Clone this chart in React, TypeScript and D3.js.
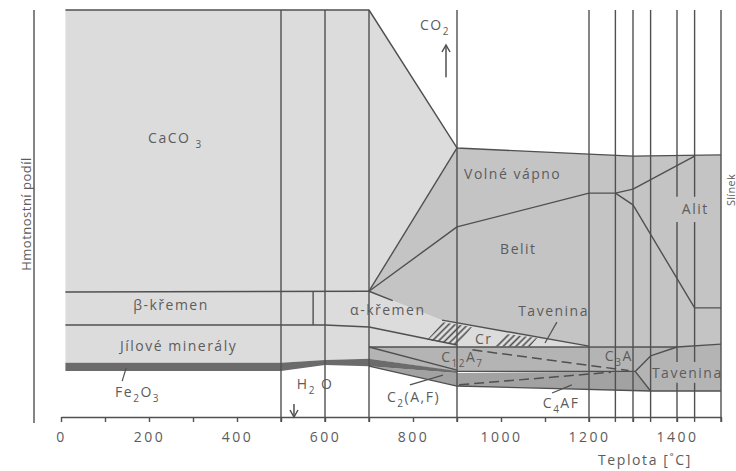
import * as d3 from "d3";
import { useRef, useEffect } from "react";

type Pt = [number, number];

// x: temperature [°C], y: relative mass [%] (0 on the axis line, 100 at the top)
const tickTemps = [0, 100, 200, 300, 400, 500, 600, 700, 800, 900, 1000, 1100, 1200, 1300, 1400, 1500];
const tickLabels = ["0", "", "200", "", "400", "", "600", "", "800", "", "1000", "", "1200", "", "1400", ""];

// vertical guide lines (reaction temperatures)
const stageTemps = [500, 600, 700, 900, 1200, 1260, 1300, 1340, 1400, 1440, 1500];
// breaks in the guide lines where labels sit
const stageGaps = [
    { t: 1400, from: 47.9, to: 54.1 },
    { t: 1440, from: 47.9, to: 54.1 },
    { t: 1400, from: 8.4, to: 13.5 },
    { t: 1440, from: 8.4, to: 13.5 },
];

// filled regions
const rawMeal: Pt[] = [[10, 100], [700, 100], [900, 66.1], [700, 30.9], [866, 23.8], [1200, 17.4], [700, 17.2], [700, 14.3], [600, 14.0], [500, 13.3], [10, 13.3]];
const limeBelitAlit: Pt[] = [[700, 30.9], [900, 66.1], [1200, 64.6], [1300, 64.1], [1500, 64.4], [1500, 17.9], [1400, 17.2], [1200, 17.4], [866, 23.8]];
const aluminateMelt: Pt[] = [[700, 17.2], [1400, 17.2], [1500, 17.9], [1500, 6.4], [1340, 6.4], [1305, 11.2], [900, 11.2], [700, 14.3]];
const ferrites: Pt[] = [[700, 12.5], [900, 10.8], [1305, 11.2], [1340, 6.4], [900, 7.6]];
const ironOxide: Pt[] = [[10, 13.3], [500, 13.3], [600, 14.0], [700, 14.3], [900, 11.3], [900, 10.8], [700, 12.5], [600, 12.8], [500, 11.3], [10, 11.3]];
const cristobaliteA: Pt[] = [[832, 18.9], [868, 23.3], [934, 22.1], [902, 17.7]];
const cristobaliteB: Pt[] = [[982, 17.3], [1009, 20.4], [1082, 19.4], [1066, 17.3]];

// boundary lines
const totalMass: Pt[] = [[10, 100], [700, 100], [900, 66.1], [1200, 64.6], [1300, 64.1], [1500, 64.4]];
const caco3Edge: Pt[] = [[700, 30.9], [900, 66.1]];
const quartzTop: Pt[] = [[10, 30.7], [700, 30.9]];
const quartzBottom: Pt[] = [[10, 22.6], [600, 22.6], [700, 22.1], [900, 17.7]];
const quartzInversion: Pt[] = [[573, 22.6], [573, 30.7]];
const quartzWedge: Pt[] = [[700, 30.9], [754, 28.6]];
const limeBelit: Pt[] = [[700, 30.9], [900, 46.7], [1200, 55.0], [1260, 55.0], [1300, 56.0], [1440, 64.1]];
const belitAlit: Pt[] = [[1260, 55.0], [1300, 52.1], [1440, 26.8], [1500, 26.8]];
const meltLine: Pt[] = [[866, 23.8], [1200, 17.4]];
const bandTop: Pt[] = [[700, 17.2], [1400, 17.2], [1500, 17.9]];
const c12a7Edge: Pt[] = [[700, 17.2], [900, 11.5]];
const bandMid: Pt[] = [[900, 11.2], [1305, 11.2]];
const meltRight: Pt[] = [[1400, 17.2], [1340, 15.0], [1305, 11.2], [1340, 6.4]];
const ferriteBottom: Pt[] = [[700, 12.5], [900, 7.6], [1340, 6.4], [1500, 6.4]];
const c12a7Split: Pt[] = [[935, 16.5], [1290, 11.4]];
const ferriteSplit: Pt[] = [[905, 7.9], [1250, 11.0]];

// leader lines from labels
const leaders: Pt[][] = [
    [[148, 12.0], [139, 8.8]],
    [[1127, 23.3], [1100, 18.2]],
    [[793, 7.9], [868, 10.3]],
    [[1116, 5.9], [1161, 7.9]],
];

// labels: [text, isSubscript]
const labels: { parts: [string, boolean][]; t: number; v: number }[] = [
    { parts: [["CaCO ", false], ["3", true]], t: 198, v: 67.3 },
    { parts: [["β-křemen", false]], t: 164, v: 26.3 },
    { parts: [["Jílové minerály", false]], t: 134, v: 16.3 },
    { parts: [["Fe", false], ["2", true], ["O", false], ["3", true]], t: 123, v: 4.9 },
    { parts: [["α-křemen", false]], t: 657, v: 25.1 },
    { parts: [["Volné vápno", false]], t: 916, v: 58.5 },
    { parts: [["Belit", false]], t: 998, v: 40.0 },
    { parts: [["Tavenina", false]], t: 1039, v: 24.8 },
    { parts: [["Cr", false]], t: 941, v: 17.9 },
    { parts: [["C", false], ["12", true], ["A", false], ["7", true]], t: 864, v: 13.6 },
    { parts: [["C", false], ["2", true], ["(A,F)", false]], t: 741, v: 3.8 },
    { parts: [["C", false], ["4", true], ["AF", false]], t: 1095, v: 2.2 },
    { parts: [["C", false], ["3", true], ["A", false]], t: 1236, v: 13.8 },
    { parts: [["Tavenina", false]], t: 1343, v: 9.6 },
    { parts: [["Alit", false]], t: 1411, v: 49.9 },
    { parts: [["H", false], ["2", true], [" O", false]], t: 536, v: 6.9 },
    { parts: [["CO", false], ["2", true]], t: 816, v: 95.1 },
];

const font = "'Open Sans', 'DejaVu Sans', sans-serif";
const lineColor = "#505050";
const textColor = "#5c5c5c";

const App = () => {
    const axisRef = useRef<SVGGElement>(null);

    const x = d3.scaleLinear().domain([0, 1500]).range([61, 721]);
    const y = d3.scaleLinear().domain([0, 100]).range([417, 10]);
    const line = d3.line<Pt>().x(d => x(d[0])).y(d => y(d[1]));
    const poly = (pts: Pt[]) => line(pts) + "Z";

    useEffect(() => {
        if (!axisRef.current) return;
        const g = d3.select(axisRef.current);
        g.selectAll("*").remove();
        g.call(
            d3.axisBottom(x)
                .tickValues(tickTemps)
                .tickFormat((_d, i) => tickLabels[i])
                .tickSize(5)
                .tickSizeOuter(0)
                .tickPadding(10)
        );
        g.select(".domain").attr("stroke", lineColor).attr("stroke-width", 1.4);
        g.selectAll(".tick line").attr("stroke", lineColor).attr("stroke-width", 1.4);
        g.selectAll(".tick text")
            .attr("fill", textColor)
            .style("font-family", font)
            .style("font-size", "14px")
            .style("letter-spacing", "2.5px");
    }, []);

    // vertical guides split by the gaps
    const guideSegments: Pt[][] = [];
    stageTemps.forEach(t => {
        const gaps = stageGaps.filter(g => g.t === t).sort((a, b) => b.to - a.to);
        let top = 100;
        gaps.forEach(g => {
            guideSegments.push([[t, top], [t, g.to]]);
            top = g.from;
        });
        guideSegments.push([[t, top], [t, -1.2]]);
    });

    const boundaries = [totalMass, caco3Edge, quartzTop, quartzBottom, quartzInversion, quartzWedge,
        limeBelit, belitAlit, meltLine, bandTop, c12a7Edge, bandMid, meltRight, ferriteBottom];

    const arrowUp = { t: 875, from: 83.5, to: 91.4 };
    const arrowDown = { t: 529.5, from: 3.2, to: 0 };

    return (
        <svg width={736} height={471} style={{ position: "absolute", left: 0, top: 0, background: "#fff" }}>
            <defs>
                <pattern id="hatch" width={4.5} height={4.5} patternUnits="userSpaceOnUse" patternTransform="rotate(45)">
                    <rect width={4.5} height={4.5} fill="#e2e2e2" />
                    <line x1={2.25} y1={0} x2={2.25} y2={4.5} stroke="#4a4a4a" strokeWidth={1.6} />
                </pattern>
            </defs>

            {/* regions */}
            <path d={poly(rawMeal)} fill="#dcdcdd" />
            <path d={poly(limeBelitAlit)} fill="#c4c4c4" />
            <path d={poly(aluminateMelt)} fill="#b4b4b4" />
            <path d={poly(ferrites)} fill="#a2a2a2" />
            <path d={poly(ironOxide)} fill="#6b6b6b" />
            <path d={poly(cristobaliteA)} fill="url(#hatch)" />
            <path d={poly(cristobaliteB)} fill="url(#hatch)" />

            {/* guides */}
            {guideSegments.map((s, i) => (
                <path key={"g" + i} d={line(s)!} stroke={lineColor} strokeWidth={1.4} fill="none" />
            ))}

            {/* boundaries */}
            {boundaries.map((b, i) => (
                <path key={"b" + i} d={line(b)!} stroke={lineColor} strokeWidth={1.4} fill="none" strokeLinejoin="round" />
            ))}
            {[c12a7Split, ferriteSplit].map((b, i) => (
                <path key={"d" + i} d={line(b)!} stroke={lineColor} strokeWidth={1.5} fill="none" strokeDasharray="10,5" />
            ))}
            {leaders.map((b, i) => (
                <path key={"l" + i} d={line(b)!} stroke={lineColor} strokeWidth={1.2} fill="none" />
            ))}

            {/* y axis */}
            <line x1={34} x2={34} y1={10} y2={423} stroke={lineColor} strokeWidth={1.4} />
            <text transform="translate(31,214) rotate(-90)" textAnchor="middle" fill={textColor}
                style={{ fontFamily: font, fontSize: 13, letterSpacing: "0.5px" }}>Hmotnostní podíl</text>

            {/* x axis */}
            <g ref={axisRef} transform={`translate(0,${y(0)})`} />
            <text x={598} y={465} fill={textColor} style={{ fontFamily: font, fontSize: 14, letterSpacing: "1.6px" }}>Teplota [˚C]</text>

            {/* gas release arrows */}
            <line x1={x(arrowUp.t)} x2={x(arrowUp.t)} y1={y(arrowUp.from)} y2={y(arrowUp.to)} stroke={lineColor} strokeWidth={1.5} />
            <path d={`M${x(arrowUp.t) - 4},${y(arrowUp.to) + 7}L${x(arrowUp.t)},${y(arrowUp.to)}L${x(arrowUp.t) + 4},${y(arrowUp.to) + 7}`}
                stroke={lineColor} strokeWidth={1.5} fill="none" />
            <line x1={x(arrowDown.t)} x2={x(arrowDown.t)} y1={y(arrowDown.from)} y2={y(arrowDown.to)} stroke={lineColor} strokeWidth={1.5} />
            <path d={`M${x(arrowDown.t) - 4},${y(arrowDown.to) - 7}L${x(arrowDown.t)},${y(arrowDown.to)}L${x(arrowDown.t) + 4},${y(arrowDown.to) - 7}`}
                stroke={lineColor} strokeWidth={1.5} fill="none" />

            {/* labels */}
            {labels.map((lb, i) => {
                let shift = 0;
                return (
                    <text key={"t" + i} x={x(lb.t)} y={y(lb.v)} fill={textColor}
                        style={{ fontFamily: font, fontSize: 14, letterSpacing: "1.5px" }}>
                        {lb.parts.map(([txt, sub], j) => {
                            const target = sub ? 5 : 0;
                            const dy = target - shift;
                            shift = target;
                            return (
                                <tspan key={j} dy={dy} style={{ fontSize: sub ? 10 : 14 }}>{txt}</tspan>
                            );
                        })}
                    </text>
                );
            })}

            <text transform="translate(734.5,190) rotate(-90)" textAnchor="middle" fill={textColor}
                style={{ fontFamily: font, fontSize: 11, letterSpacing: "0.3px" }}>Slínek</text>
        </svg>
    );
};

export default App;
